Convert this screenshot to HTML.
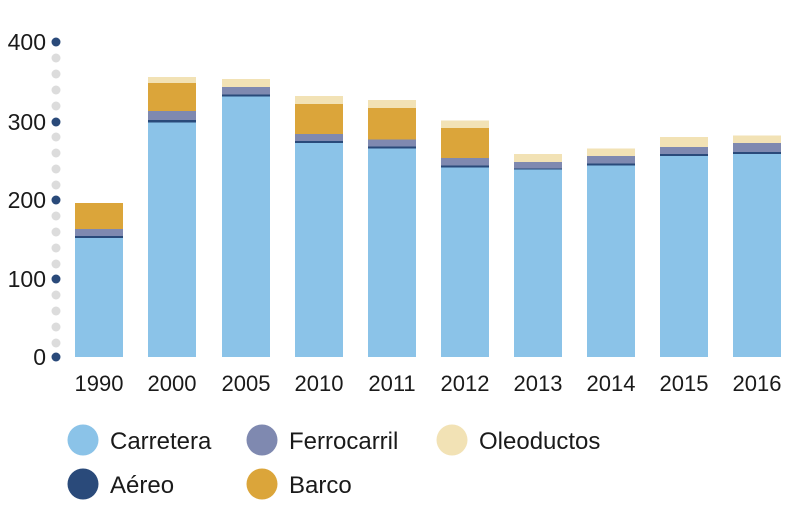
<!DOCTYPE html>
<html><head><meta charset="utf-8"><style>
html,body{margin:0;padding:0;background:#fff;}
svg{display:block;font-family:"Liberation Sans",sans-serif;}
</style></head><body>
<svg width="785" height="506" viewBox="0 0 785 506" xmlns="http://www.w3.org/2000/svg">
<g fill="#dcdcdc">
<circle cx="56" cy="58" r="4.5"/><circle cx="56" cy="74" r="4.5"/><circle cx="56" cy="90" r="4.5"/><circle cx="56" cy="106" r="4.5"/>
<circle cx="56" cy="137" r="4.5"/><circle cx="56" cy="153" r="4.5"/><circle cx="56" cy="169" r="4.5"/><circle cx="56" cy="185" r="4.5"/>
<circle cx="56" cy="216" r="4.5"/><circle cx="56" cy="232" r="4.5"/><circle cx="56" cy="248" r="4.5"/><circle cx="56" cy="264" r="4.5"/>
<circle cx="56" cy="295" r="4.5"/><circle cx="56" cy="311" r="4.5"/><circle cx="56" cy="327" r="4.5"/><circle cx="56" cy="343" r="4.5"/>
</g>
<g fill="#2a4a7a">
<circle cx="56" cy="42" r="4.5"/><circle cx="56" cy="122" r="4.5"/><circle cx="56" cy="200" r="4.5"/><circle cx="56" cy="279" r="4.5"/><circle cx="56" cy="357" r="4.5"/>
</g>
<g font-size="23" fill="#1a1a1a" text-anchor="end">
<text x="46" y="50">400</text><text x="46" y="130">300</text><text x="46" y="208">200</text><text x="46" y="287">100</text><text x="46" y="365">0</text>
</g>
<!-- bars: x, oleo, barco, ferro, aereo, carr -->
<g>
<!-- 1990 -->
<rect x="75" y="203" width="48" height="26" fill="#dba53a"/><rect x="75" y="229" width="48" height="7" fill="#7f89b0"/><rect x="75" y="236" width="48" height="2" fill="#2a4a7a"/><rect x="75" y="238" width="48" height="119" fill="#8bc3e8"/>
<!-- 2000 -->
<rect x="148" y="77" width="48" height="6" fill="#f2e2b5"/><rect x="148" y="83" width="48" height="28" fill="#dba53a"/><rect x="148" y="111" width="48" height="9" fill="#7f89b0"/><rect x="148" y="120" width="48" height="2.5" fill="#2a4a7a"/><rect x="148" y="122.5" width="48" height="234.5" fill="#8bc3e8"/>
<!-- 2005 -->
<rect x="222" y="79" width="48" height="8" fill="#f2e2b5"/><rect x="222" y="87" width="48" height="7.5" fill="#7f89b0"/><rect x="222" y="94.5" width="48" height="2" fill="#2a4a7a"/><rect x="222" y="96.5" width="48" height="260.5" fill="#8bc3e8"/>
<!-- 2010 -->
<rect x="295" y="96" width="48" height="8" fill="#f2e2b5"/><rect x="295" y="104" width="48" height="30" fill="#dba53a"/><rect x="295" y="134" width="48" height="7" fill="#7f89b0"/><rect x="295" y="141" width="48" height="2" fill="#2a4a7a"/><rect x="295" y="143" width="48" height="214" fill="#8bc3e8"/>
<!-- 2011 -->
<rect x="368" y="100" width="48" height="8" fill="#f2e2b5"/><rect x="368" y="108" width="48" height="31.5" fill="#dba53a"/><rect x="368" y="139.5" width="48" height="7" fill="#7f89b0"/><rect x="368" y="146.5" width="48" height="2" fill="#2a4a7a"/><rect x="368" y="148.5" width="48" height="208.5" fill="#8bc3e8"/>
<!-- 2012 -->
<rect x="441" y="120.5" width="48" height="7.5" fill="#f2e2b5"/><rect x="441" y="128" width="48" height="30" fill="#dba53a"/><rect x="441" y="158" width="48" height="7.5" fill="#7f89b0"/><rect x="441" y="165.5" width="48" height="2" fill="#2a4a7a"/><rect x="441" y="167.5" width="48" height="189.5" fill="#8bc3e8"/>
<!-- 2013 -->
<rect x="514" y="154" width="48" height="8" fill="#f2e2b5"/><rect x="514" y="162" width="48" height="6.5" fill="#7f89b0"/><rect x="514" y="168.5" width="48" height="1" fill="#2a4a7a"/><rect x="514" y="169.5" width="48" height="187.5" fill="#8bc3e8"/>
<!-- 2014 -->
<rect x="587" y="148.5" width="48" height="7.5" fill="#f2e2b5"/><rect x="587" y="156" width="48" height="7.5" fill="#7f89b0"/><rect x="587" y="163.5" width="48" height="2" fill="#2a4a7a"/><rect x="587" y="165.5" width="48" height="191.5" fill="#8bc3e8"/>
<!-- 2015 -->
<rect x="660" y="137" width="48" height="10" fill="#f2e2b5"/><rect x="660" y="147" width="48" height="7" fill="#7f89b0"/><rect x="660" y="154" width="48" height="2" fill="#2a4a7a"/><rect x="660" y="156" width="48" height="201" fill="#8bc3e8"/>
<!-- 2016 -->
<rect x="733" y="135.5" width="48" height="7.5" fill="#f2e2b5"/><rect x="733" y="143" width="48" height="9" fill="#7f89b0"/><rect x="733" y="152" width="48" height="2" fill="#2a4a7a"/><rect x="733" y="154" width="48" height="203" fill="#8bc3e8"/>
</g>
<g font-size="22" fill="#1a1a1a" text-anchor="middle">
<text x="99" y="391">1990</text><text x="172" y="391">2000</text><text x="246" y="391">2005</text><text x="319" y="391">2010</text><text x="392" y="391">2011</text><text x="465" y="391">2012</text><text x="538" y="391">2013</text><text x="611" y="391">2014</text><text x="684" y="391">2015</text><text x="757" y="391">2016</text>
</g>
<circle cx="83" cy="440" r="15.5" fill="#8bc3e8"/>
<circle cx="262" cy="440" r="15.5" fill="#7f89b0"/>
<circle cx="452" cy="440" r="15.5" fill="#f2e2b5"/>
<circle cx="83" cy="484" r="15.5" fill="#2a4a7a"/>
<circle cx="262" cy="484" r="15.5" fill="#dba53a"/>
<g font-size="24" fill="#1a1a1a">
<text x="110" y="449">Carretera</text><text x="289" y="449">Ferrocarril</text><text x="479" y="449">Oleoductos</text>
<text x="110" y="493">Aéreo</text><text x="289" y="493">Barco</text>
</g>
</svg>
</body></html>
